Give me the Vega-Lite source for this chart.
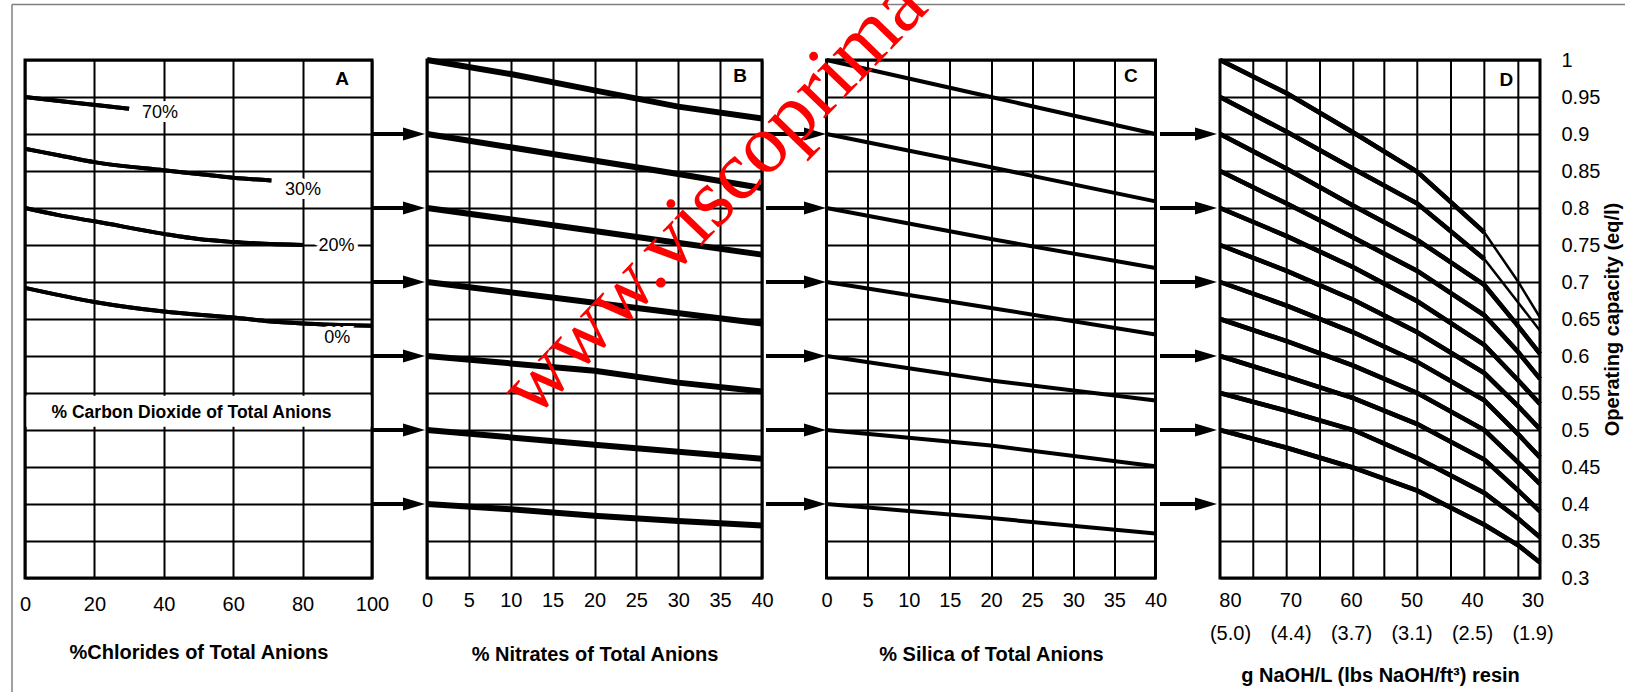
{
"$schema": "https://vega.github.io/schema/vega-lite/v6.json",
"autosize": {"type": "none"},
"padding": {"left": 25, "top": 60, "right": 1600, "bottom": 632},
"background": "#ffffff",
"config": {
 "view": {"stroke": "#000000", "strokeWidth": 3},
 "font": "Liberation Sans",
 "axis": {"domain": false, "ticks": false, "tickSize": 0, "tickCount": 30, "gridColor": "#000000", "gridOpacity": 1, "gridWidth": 2, "labelColor": "#000000", "labelFontSize": 20, "labelFont": "Liberation Sans", "labelFlush": false, "labelOverlap": false, "titleColor": "#000000", "titleFont": "Liberation Sans", "titleFontSize": 20, "titleFontWeight": "bold"}
},
"datasets": {
 "A": [
  {"s":"70%","x":0,"y":0.95},{"s":"70%","x":15,"y":0.942},{"s":"70%","x":30,"y":0.934},
  {"s":"30%","x":0,"y":0.88},{"s":"30%","x":10,"y":0.871},{"s":"30%","x":20,"y":0.862},{"s":"30%","x":40,"y":0.851},{"s":"30%","x":50,"y":0.846},{"s":"30%","x":60,"y":0.841},{"s":"30%","x":71,"y":0.837},
  {"s":"20%","x":0,"y":0.8},{"s":"20%","x":10,"y":0.79},{"s":"20%","x":20,"y":0.782},{"s":"20%","x":40,"y":0.765},{"s":"20%","x":50,"y":0.758},{"s":"20%","x":60,"y":0.754},{"s":"20%","x":80,"y":0.75},
  {"s":"0%","x":0,"y":0.692},{"s":"0%","x":20,"y":0.673},{"s":"0%","x":40,"y":0.66},{"s":"0%","x":60,"y":0.652},{"s":"0%","x":70,"y":0.647},{"s":"0%","x":80,"y":0.644},{"s":"0%","x":100,"y":0.641}
 ],
 "Alabels": [{"label":"70%","x":38.9,"y":0.928},{"label":"30%","x":80.1,"y":0.825},{"label":"20%","x":89.8,"y":0.749},{"label":"0%","x":90,"y":0.624}],
 "B": [
  {"s":1,"x":0,"y":1.0},{"s":1,"x":10,"y":0.981},{"s":1,"x":20,"y":0.959},{"s":1,"x":30,"y":0.937},{"s":1,"x":40,"y":0.921},
  {"s":2,"x":0,"y":0.9},{"s":2,"x":15,"y":0.873},{"s":2,"x":25,"y":0.855},{"s":2,"x":30,"y":0.846},{"s":2,"x":40,"y":0.827},
  {"s":3,"x":0,"y":0.8},{"s":3,"x":20,"y":0.769},{"s":3,"x":40,"y":0.737},
  {"s":4,"x":0,"y":0.7},{"s":4,"x":20,"y":0.672},{"s":4,"x":40,"y":0.644},
  {"s":5,"x":0,"y":0.6},{"s":5,"x":20,"y":0.58},{"s":5,"x":30,"y":0.564},{"s":5,"x":40,"y":0.552},
  {"s":6,"x":0,"y":0.5},{"s":6,"x":20,"y":0.48},{"s":6,"x":40,"y":0.461},
  {"s":7,"x":0,"y":0.4},{"s":7,"x":10,"y":0.393},{"s":7,"x":20,"y":0.384},{"s":7,"x":30,"y":0.377},{"s":7,"x":40,"y":0.371}
 ],
 "C": [
  {"s":1,"x":0,"y":1.0},{"s":1,"x":20,"y":0.95},{"s":1,"x":40,"y":0.9},
  {"s":2,"x":0,"y":0.9},{"s":2,"x":20,"y":0.855},{"s":2,"x":40,"y":0.809},
  {"s":3,"x":0,"y":0.8},{"s":3,"x":20,"y":0.758},{"s":3,"x":40,"y":0.719},
  {"s":4,"x":0,"y":0.7},{"s":4,"x":20,"y":0.665},{"s":4,"x":40,"y":0.629},
  {"s":5,"x":0,"y":0.6},{"s":5,"x":20,"y":0.567},{"s":5,"x":40,"y":0.54},
  {"s":6,"x":0,"y":0.5},{"s":6,"x":20,"y":0.479},{"s":6,"x":40,"y":0.451},
  {"s":7,"x":0,"y":0.4},{"s":7,"x":20,"y":0.381},{"s":7,"x":40,"y":0.36}
 ],
 "D": [
  {"s":1,"x":81.65,"y":1.0},{"s":1,"x":70.63,"y":0.955},{"s":1,"x":59.62,"y":0.902},{"s":1,"x":49.04,"y":0.849},{"s":1,"x":37.96,"y":0.767},
  {"s":2,"x":81.65,"y":0.95},{"s":2,"x":70.63,"y":0.903},{"s":2,"x":59.62,"y":0.853},{"s":2,"x":49.04,"y":0.806},{"s":2,"x":37.96,"y":0.731},
  {"s":3,"x":81.65,"y":0.9},{"s":3,"x":70.63,"y":0.853},{"s":3,"x":59.62,"y":0.803},{"s":3,"x":49.04,"y":0.757},{"s":3,"x":37.96,"y":0.696},{"s":3,"x":32.34,"y":0.64},{"s":3,"x":28.76,"y":0.603},
  {"s":4,"x":81.65,"y":0.85},{"s":4,"x":70.63,"y":0.806},{"s":4,"x":59.62,"y":0.76},{"s":4,"x":49.04,"y":0.715},{"s":4,"x":37.96,"y":0.655},{"s":4,"x":32.34,"y":0.605},{"s":4,"x":28.76,"y":0.569},
  {"s":5,"x":81.65,"y":0.8},{"s":5,"x":70.63,"y":0.762},{"s":5,"x":59.62,"y":0.72},{"s":5,"x":49.04,"y":0.674},{"s":5,"x":37.96,"y":0.615},{"s":5,"x":32.34,"y":0.567},{"s":5,"x":28.76,"y":0.535},
  {"s":6,"x":81.65,"y":0.75},{"s":6,"x":70.63,"y":0.715},{"s":6,"x":59.62,"y":0.676},{"s":6,"x":49.04,"y":0.632},{"s":6,"x":37.96,"y":0.577},{"s":6,"x":32.34,"y":0.532},{"s":6,"x":28.76,"y":0.501},
  {"s":7,"x":81.65,"y":0.7},{"s":7,"x":70.63,"y":0.668},{"s":7,"x":59.62,"y":0.632},{"s":7,"x":49.04,"y":0.592},{"s":7,"x":37.96,"y":0.54},{"s":7,"x":32.34,"y":0.494},{"s":7,"x":28.76,"y":0.463},
  {"s":8,"x":81.65,"y":0.65},{"s":8,"x":70.63,"y":0.62},{"s":8,"x":59.62,"y":0.587},{"s":8,"x":49.04,"y":0.55},{"s":8,"x":37.96,"y":0.5},{"s":8,"x":32.34,"y":0.456},{"s":8,"x":28.76,"y":0.427},
  {"s":9,"x":81.65,"y":0.6},{"s":9,"x":70.63,"y":0.572},{"s":9,"x":59.62,"y":0.543},{"s":9,"x":49.04,"y":0.508},{"s":9,"x":37.96,"y":0.46},{"s":9,"x":32.34,"y":0.418},{"s":9,"x":28.76,"y":0.39},
  {"s":10,"x":81.65,"y":0.55},{"s":10,"x":70.63,"y":0.526},{"s":10,"x":59.62,"y":0.5},{"s":10,"x":49.04,"y":0.462},{"s":10,"x":37.96,"y":0.415},{"s":10,"x":32.34,"y":0.38},{"s":10,"x":28.76,"y":0.355},
  {"s":11,"x":81.65,"y":0.5},{"s":11,"x":70.63,"y":0.476},{"s":11,"x":59.62,"y":0.449},{"s":11,"x":49.04,"y":0.418},{"s":11,"x":37.96,"y":0.372},{"s":11,"x":32.34,"y":0.344},{"s":11,"x":28.76,"y":0.321}
 ],
 "Dthin": [
  {"s":1,"x":37.96,"y":0.767},{"s":1,"x":32.34,"y":0.7},{"s":1,"x":28.76,"y":0.652},
  {"s":2,"x":37.96,"y":0.731},{"s":2,"x":32.34,"y":0.672},{"s":2,"x":28.76,"y":0.634}
 ],
 "Dgrid": [{"x":76.15},{"x":70.63},{"x":65.12},{"x":59.62},{"x":54.49},{"x":49.04},{"x":43.47},{"x":37.96},{"x":32.34}],
 "arrows": [{"y":0.9},{"y":0.8},{"y":0.7},{"y":0.6},{"y":0.5},{"y":0.4}]
},
"spacing": 55,
"bounds": "flush",
"hconcat": [
 {
  "width": 347, "height": 518,
  "layer": [
   {"data": {"name": "A"}, "mark": {"type": "line", "color": "#000000", "strokeWidth": 4, "interpolate": "monotone"},
    "encoding": {
     "x": {"field": "x", "type": "quantitative", "scale": {"domain": [0, 100], "nice": false, "zero": false}, "axis": {"values": [0, 20, 40, 60, 80, 100], "tickCount": 30, "grid": true, "labelPadding": 16, "title": "%Chlorides of Total Anions", "titleY": 74, "titleBaseline": "middle"}},
     "y": {"field": "y", "type": "quantitative", "scale": {"domain": [0.3, 1], "nice": false, "zero": false}, "axis": {"values": [0.3,0.35,0.4,0.45,0.5,0.55,0.6,0.65,0.7,0.75,0.8,0.85,0.9,0.95,1], "tickCount": 30, "grid": true, "labels": false, "title": null}},
     "detail": {"field": "s"}}},
   {"data": {"values": [{}]}, "mark": {"type": "rule", "color": "#808080", "strokeWidth": 1.5}, "encoding": {"x": {"datum": -3.75}, "y": {"datum": 0.1}, "y2": {"datum": 1.075}}},
   {"data": {"values": [{}]}, "mark": {"type": "rule", "color": "#808080", "strokeWidth": 1.5}, "encoding": {"x": {"datum": -3.75}, "x2": {"datum": 470}, "y": {"datum": 1.075}}},
   {"data": {"values": [{}]}, "mark": {"type": "rect", "fill": "#ffffff"}, "encoding": {"x": {"datum": 0.4}, "x2": {"datum": 99.6}, "y": {"datum": 0.5045}, "y2": {"datum": 0.5462}}},
   {"data": {"name": "A"}, "mark": {"type": "line", "color": "#000000", "strokeWidth": 4, "interpolate": "monotone"},
    "encoding": {"x": {"field": "x", "type": "quantitative"}, "y": {"field": "y", "type": "quantitative"}, "detail": {"field": "s"}}},
   {"data": {"name": "Alabels"}, "mark": {"type": "text", "fontSize": 18, "fill": "#ffffff", "stroke": "#ffffff", "strokeWidth": 8},
    "encoding": {"x": {"field": "x", "type": "quantitative"}, "y": {"field": "y", "type": "quantitative"}, "text": {"field": "label"}}},
   {"data": {"name": "Alabels"}, "mark": {"type": "text", "fontSize": 18, "color": "#000000"},
    "encoding": {"x": {"field": "x", "type": "quantitative"}, "y": {"field": "y", "type": "quantitative"}, "text": {"field": "label"}}},
   {"data": {"values": [{}]}, "mark": {"type": "text", "text": "% Carbon Dioxide of Total Anions", "fontSize": 17.5, "fontWeight": "bold", "color": "#000000"}, "encoding": {"x": {"datum": 48}, "y": {"datum": 0.523}}},
   {"data": {"values": [{}]}, "mark": {"type": "text", "text": "A", "fontSize": 19, "fontWeight": "bold", "color": "#000000"}, "encoding": {"x": {"datum": 91.4}, "y": {"datum": 0.974}}}
  ]
 },
 {
  "spacing": 64.5,
  "bounds": "flush",
  "hconcat": [
   {
    "width": 335, "height": 518,
    "layer": [
     {"data": {"name": "B"}, "mark": {"type": "line", "color": "#000000", "strokeWidth": 6},
      "encoding": {
       "x": {"field": "x", "type": "quantitative", "scale": {"domain": [0, 40], "nice": false, "zero": false}, "axis": {"values": [0,5,10,15,20,25,30,35,40], "tickCount": 30, "grid": true, "labelPadding": 12, "title": "% Nitrates of Total Anions", "titleY": 76, "titleBaseline": "middle"}},
       "y": {"field": "y", "type": "quantitative", "scale": {"domain": [0.3, 1], "nice": false, "zero": false}, "axis": {"values": [0.3,0.35,0.4,0.45,0.5,0.55,0.6,0.65,0.7,0.75,0.8,0.85,0.9,0.95,1], "tickCount": 30, "grid": true, "labels": false, "title": null}},
       "detail": {"field": "s"}}},
     {"data": {"name": "arrows"}, "mark": {"type": "rule", "color": "#000000", "strokeWidth": 4}, "encoding": {"x": {"datum": -6.57}, "x2": {"datum": -2.0}, "y": {"field": "y", "type": "quantitative"}}},
     {"data": {"name": "arrows"}, "mark": {"type": "point", "shape": "M-1,-0.6L1,0L-1,0.6Z", "size": 484, "filled": true, "color": "#000000", "opacity": 1}, "encoding": {"x": {"datum": -1.55}, "y": {"field": "y", "type": "quantitative"}}},
     {"data": {"values": [{}]}, "mark": {"type": "text", "text": "B", "fontSize": 19, "fontWeight": "bold", "color": "#000000"}, "encoding": {"x": {"datum": 37.4}, "y": {"datum": 0.978}}}
    ]
   },
   {
    "width": 329, "height": 518,
    "layer": [
     {"data": {"name": "C"}, "mark": {"type": "line", "color": "#000000", "strokeWidth": 4},
      "encoding": {
       "x": {"field": "x", "type": "quantitative", "scale": {"domain": [0, 40], "nice": false, "zero": false}, "axis": {"values": [0,5,10,15,20,25,30,35,40], "tickCount": 30, "grid": true, "labelPadding": 12, "title": "% Silica of Total Anions", "titleY": 76, "titleBaseline": "middle"}},
       "y": {"field": "y", "type": "quantitative", "scale": {"domain": [0.3, 1], "nice": false, "zero": false}, "axis": {"values": [0.3,0.35,0.4,0.45,0.5,0.55,0.6,0.65,0.7,0.75,0.8,0.85,0.9,0.95,1], "tickCount": 30, "grid": true, "labels": false, "title": null}},
       "detail": {"field": "s"}}},
     {"data": {"name": "arrows"}, "mark": {"type": "rule", "color": "#000000", "strokeWidth": 4}, "encoding": {"x": {"datum": -7.36}, "x2": {"datum": -2.3}, "y": {"field": "y", "type": "quantitative"}}},
     {"data": {"name": "arrows"}, "mark": {"type": "point", "shape": "M-1,-0.6L1,0L-1,0.6Z", "size": 484, "filled": true, "color": "#000000", "opacity": 1}, "encoding": {"x": {"datum": -1.4}, "y": {"field": "y", "type": "quantitative"}}},
     {"data": {"values": [{}]}, "mark": {"type": "text", "text": "C", "fontSize": 19, "fontWeight": "bold", "color": "#000000"}, "encoding": {"x": {"datum": 37.0}, "y": {"datum": 0.978}}},
     {"data": {"values": [{}]}, "mark": {"type": "text", "text": "www.viscoprima", "font": "Liberation Serif", "fontSize": 84, "angle": -46, "align": "left", "baseline": "alphabetic", "color": "#ff0000"}, "encoding": {"x": {"datum": -35.6}, "y": {"datum": 0.514}}}
    ]
   },
   {
    "width": 320, "height": 518,
    "layer": [
     {"data": {"name": "D"}, "mark": {"type": "line", "color": "#000000", "strokeWidth": 4.5},
      "encoding": {
       "x": {"field": "x", "type": "quantitative", "scale": {"domain": [28.76, 81.65], "reverse": true, "nice": false, "zero": false}, "axis": {"values": [80,70,60,50,40,30], "tickCount": 30, "grid": false, "labelPadding": 12, "labelLineHeight": 33, "labelExpr": "[datum.label, datum.value == 80 ? '(5.0)' : datum.value == 70 ? '(4.4)' : datum.value == 60 ? '(3.7)' : datum.value == 50 ? '(3.1)' : datum.value == 40 ? '(2.5)' : '(1.9)']", "title": "g NaOH/L (lbs NaOH/ft³) resin", "titleY": 97, "titleBaseline": "middle"}},
       "y": {"field": "y", "type": "quantitative", "scale": {"domain": [0.3, 1], "nice": false, "zero": false}, "axis": {"orient": "right", "values": [0.3,0.35,0.4,0.45,0.5,0.55,0.6,0.65,0.7,0.75,0.8,0.85,0.9,0.95,1], "tickCount": 30, "format": "~g", "grid": true, "labelAlign": "left", "labelPadding": 21, "title": "Operating capacity (eq/l)", "titleAngle": 270, "titleX": 72, "titleY": 259, "titleAlign": "center", "titleBaseline": "middle"}},
       "detail": {"field": "s"}}},
     {"data": {"name": "Dgrid"}, "mark": {"type": "rule", "color": "#000000", "strokeWidth": 2}, "encoding": {"x": {"field": "x", "type": "quantitative"}}},
     {"data": {"name": "D"}, "mark": {"type": "line", "color": "#000000", "strokeWidth": 4.5},
      "encoding": {"x": {"field": "x", "type": "quantitative"}, "y": {"field": "y", "type": "quantitative"}, "detail": {"field": "s"}}},
     {"data": {"name": "Dthin"}, "mark": {"type": "line", "color": "#000000", "strokeWidth": 2.5},
      "encoding": {"x": {"field": "x", "type": "quantitative"}, "y": {"field": "y", "type": "quantitative"}, "detail": {"field": "s"}}},
     {"data": {"name": "arrows"}, "mark": {"type": "rule", "color": "#000000", "strokeWidth": 4}, "encoding": {"x": {"datum": 91.57}, "x2": {"datum": 84.6}, "y": {"field": "y", "type": "quantitative"}}},
     {"data": {"name": "arrows"}, "mark": {"type": "point", "shape": "M-1,-0.6L1,0L-1,0.6Z", "size": 484, "filled": true, "color": "#000000", "opacity": 1}, "encoding": {"x": {"datum": 83.96}, "y": {"field": "y", "type": "quantitative"}}},
     {"data": {"values": [{}]}, "mark": {"type": "text", "text": "D", "fontSize": 19, "fontWeight": "bold", "color": "#000000"}, "encoding": {"x": {"datum": 34.3}, "y": {"datum": 0.973}}}
    ]
   }
  ]
 }
]
}
